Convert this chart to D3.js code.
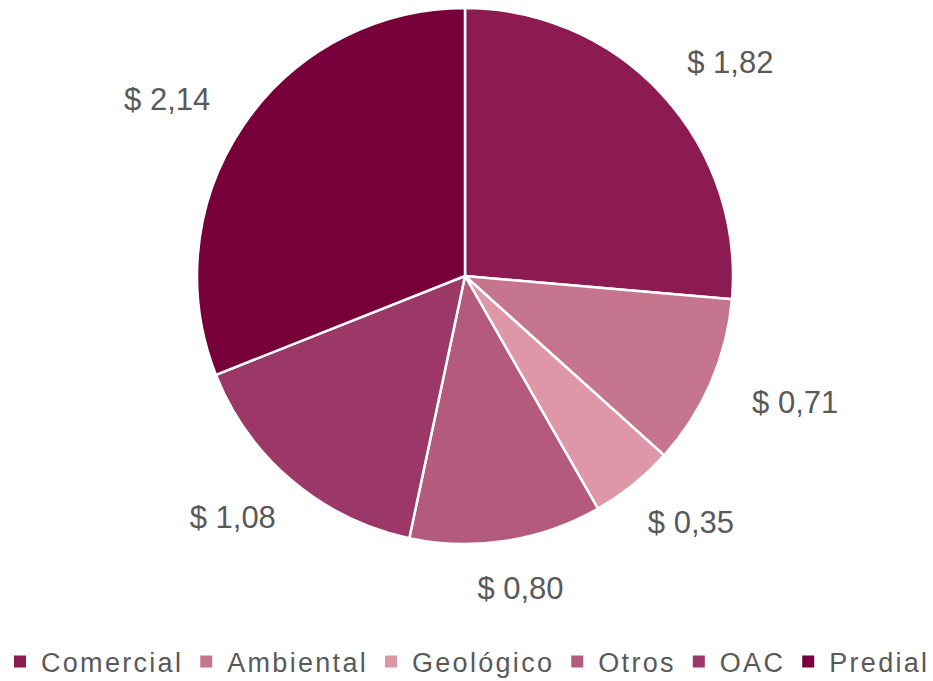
<!DOCTYPE html>
<html>
<head>
<meta charset="utf-8">
<script src="https://cdn.jsdelivr.net/npm/d3@7"></script>
<style>
  body { margin: 0; background: #fff; }
  svg { display: block; }
</style>
</head>
<body>
<div id="chart"></div>
<script>
// data
const categories = ['Comercial', 'Ambiental', 'Geológico', 'Otros', 'OAC', 'Predial'];
const values = [1.82, 0.71, 0.35, 0.80, 1.08, 2.14];
const colors = ['#8c1b52', '#c5768e', '#de97a8', '#b35a7d', '#9c3868', '#78003a'];

const width = 933, height = 681;
const cx = 465, cy = 276, radius = 268;

const svg = d3.select('#chart').append('svg')
  .attr('width', width)
  .attr('height', height);

const color = d3.scaleOrdinal().domain(categories).range(colors);

const pie = d3.pie().sort(null).value(d => d.value);
const arcs = pie(categories.map((c, i) => ({ name: c, value: values[i] })));

const arc = d3.arc().innerRadius(0).outerRadius(radius);

const g = svg.append('g').attr('transform', `translate(${cx},${cy})`);

g.selectAll('path.slice')
  .data(arcs)
  .enter()
  .append('path')
  .attr('class', 'slice')
  .attr('d', arc)
  .style('fill', d => color(d.data.name))
  .style('stroke', '#fff')
  .style('stroke-width', 2.5);

// labels outside end (placed on an ellipse around the pie)
const fmt = v => '$ ' + v.toFixed(2).replace('.', ',');
const labelRx = radius + 92, labelRy = radius + 48;

function labelPos(d) {
  const a = (d.startAngle + d.endAngle) / 2;
  return [Math.sin(a) * labelRx, -Math.cos(a) * labelRy];
}

g.selectAll('text.lbl')
  .data(arcs)
  .enter()
  .append('text')
  .attr('class', 'lbl')
  .attr('x', d => labelPos(d)[0])
  .attr('y', d => labelPos(d)[1] + 11)
  .attr('text-anchor', 'middle')
  .style('font-family', 'Liberation Sans, Arial, sans-serif')
  .style('font-size', '31px')
  .style('fill', '#595959')
  .text(d => fmt(d.data.value));

// legend
const legend = svg.append('g').attr('class', 'legend');
const legendY = 662;

let lx = 14;
categories.forEach((c, i) => {
  const item = legend.append('g').attr('transform', `translate(${lx},0)`);
  item.append('rect')
    .attr('x', 0)
    .attr('y', legendY - 6.5)
    .attr('width', 12)
    .attr('height', 12)
    .style('fill', color(c));
  const t = item.append('text')
    .attr('x', 27)
    .attr('y', legendY + 10)
    .style('font-family', 'Liberation Sans, Arial, sans-serif')
    .style('font-size', '27px')
    .style('letter-spacing', '2.3px')
    .style('fill', '#595959')
    .text(c);
  lx += 27 + t.node().getComputedTextLength() + 17;
});
</script>
</body>
</html>
